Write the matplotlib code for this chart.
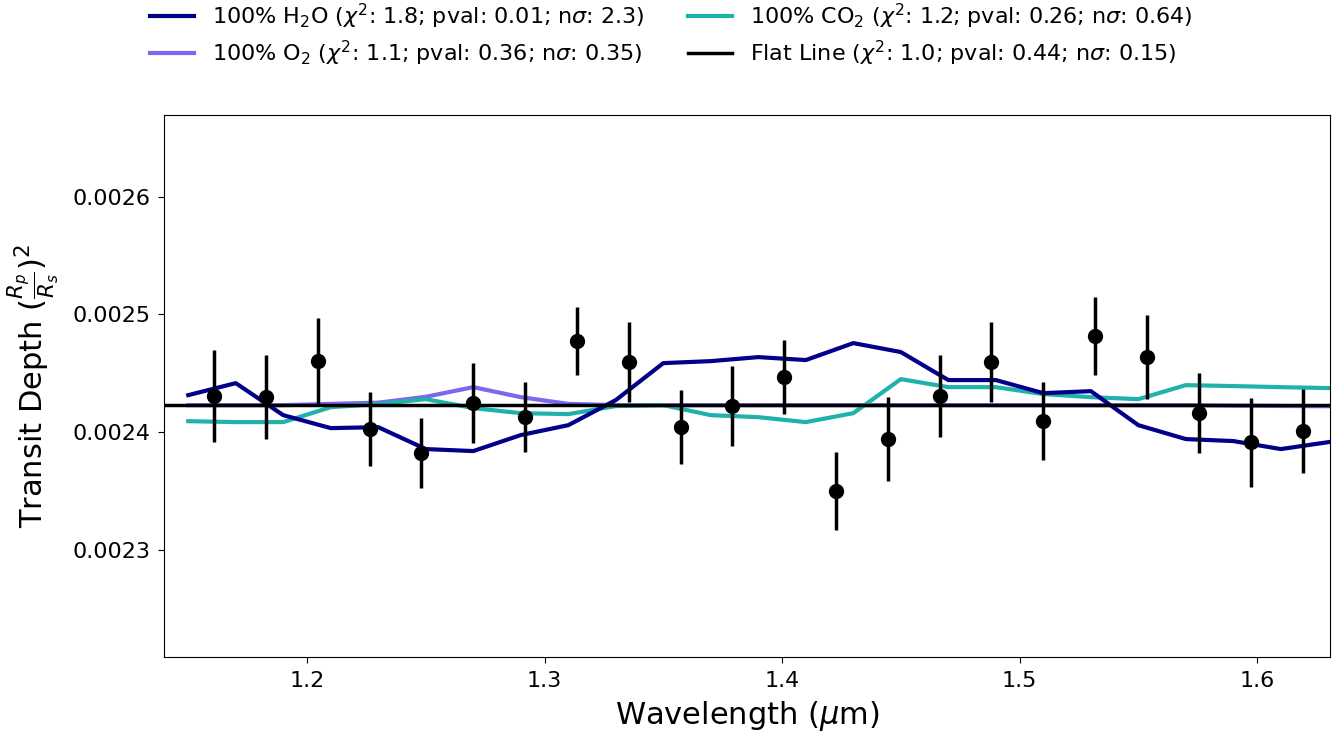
import numpy as np
import matplotlib
matplotlib.use('Agg')
import matplotlib.pyplot as plt

# observed spectrum
wave = [1.1609, 1.1827, 1.2046, 1.2265, 1.2480, 1.2699, 1.2918, 1.3137,
        1.3356, 1.3575, 1.3790, 1.4009, 1.4227, 1.4446, 1.4665, 1.4880,
        1.5099, 1.5318, 1.5537, 1.5756, 1.5975, 1.6194]
depth = [0.0024310, 0.0024297, 0.0024600, 0.0024025, 0.0023822, 0.0024246,
         0.0024127, 0.0024773, 0.0024595, 0.0024042, 0.0024220, 0.0024467,
         0.0023499, 0.0023941, 0.0024306, 0.0024595, 0.0024093, 0.0024816,
         0.0024637, 0.0024161, 0.0023915, 0.0024008]
err = [0.0000390, 0.0000357, 0.0000365, 0.0000315, 0.0000300, 0.0000340,
       0.0000300, 0.0000290, 0.0000340, 0.0000313, 0.0000340, 0.0000315,
       0.0000330, 0.0000357, 0.0000350, 0.0000340, 0.0000330, 0.0000330,
       0.0000357, 0.0000340, 0.0000378, 0.0000357]

# model spectra (binned)
model_wave = np.arange(1.15, 1.6401, 0.02)
h2o = [0.0024314, 0.0024416, 0.0024144, 0.0024034, 0.0024042, 0.0023856,
       0.0023839, 0.0023975, 0.0024059, 0.0024272, 0.0024586, 0.0024603,
       0.0024637, 0.0024612, 0.0024756, 0.0024680, 0.0024442, 0.0024442,
       0.0024331, 0.0024348, 0.0024059, 0.0023941, 0.0023924, 0.0023856,
       0.0023915]
co2 = [0.0024093, 0.0024085, 0.0024085, 0.0024212, 0.0024238, 0.0024280,
       0.0024204, 0.0024161, 0.0024153, 0.0024221, 0.0024229, 0.0024144,
       0.0024127, 0.0024085, 0.0024161, 0.0024450, 0.0024382, 0.0024382,
       0.0024323, 0.0024297, 0.0024280, 0.0024399, 0.0024391, 0.0024382,
       0.0024374]
o2 = [0.0024229, 0.0024229, 0.0024229, 0.0024240, 0.0024250, 0.0024300,
      0.0024382, 0.0024297, 0.0024240, 0.0024229, 0.0024229, 0.0024229,
      0.0024229, 0.0024229, 0.0024229, 0.0024229, 0.0024229, 0.0024229,
      0.0024229, 0.0024229, 0.0024229, 0.0024229, 0.0024225, 0.0024222,
      0.0024220]
flat = 0.0024229

labels = [r'100% H$_2$O ($\chi^2$: 1.8; pval: 0.01; n$\sigma$: 2.3)',
          r'100% O$_2$ ($\chi^2$: 1.1; pval: 0.36; n$\sigma$: 0.35)',
          r'100% CO$_2$ ($\chi^2$: 1.2; pval: 0.26; n$\sigma$: 0.64)',
          r'Flat Line ($\chi^2$: 1.0; pval: 0.44; n$\sigma$: 0.15)']

fig = plt.figure(figsize=(13.39, 7.35), dpi=100)
ax = fig.add_axes([0.1225, 0.1061, 0.8708, 0.7374])

l1, = ax.plot(model_wave, h2o, color='darkblue', lw=3, zorder=3)
l2, = ax.plot(model_wave, o2, color='mediumslateblue', lw=3, zorder=2)
l3, = ax.plot(model_wave, co2, color='lightseagreen', lw=3, zorder=2)
l4 = ax.axhline(flat, color='black', lw=2.5, zorder=4)
ax.errorbar(wave, depth, yerr=err, fmt='o', color='black', ms=10,
            elinewidth=2.5, capsize=0, zorder=5)

ax.set_xlim(1.1398, 1.6307)
ax.set_ylim(0.002209, 0.0026693)
ax.set_yticks([0.0023, 0.0024, 0.0025, 0.0026])
ax.set_xticks([1.2, 1.3, 1.4, 1.5, 1.6])
ax.tick_params(labelsize=16, pad=6, length=4)
ax.set_xlabel(r'Wavelength ($\mu$m)', fontsize=22, labelpad=6)
ax.set_ylabel(r'Transit Depth ($\frac{R_p}{R_s}$)$^2$', fontsize=22,
              labelpad=8)

ax.legend([l1, l2, l3, l4], labels, loc='lower center',
          bbox_to_anchor=(0.435, 1.05), ncol=2, frameon=False, fontsize=16,
          columnspacing=1.95, labelspacing=0.35)

plt.savefig('out.png', dpi=100)
